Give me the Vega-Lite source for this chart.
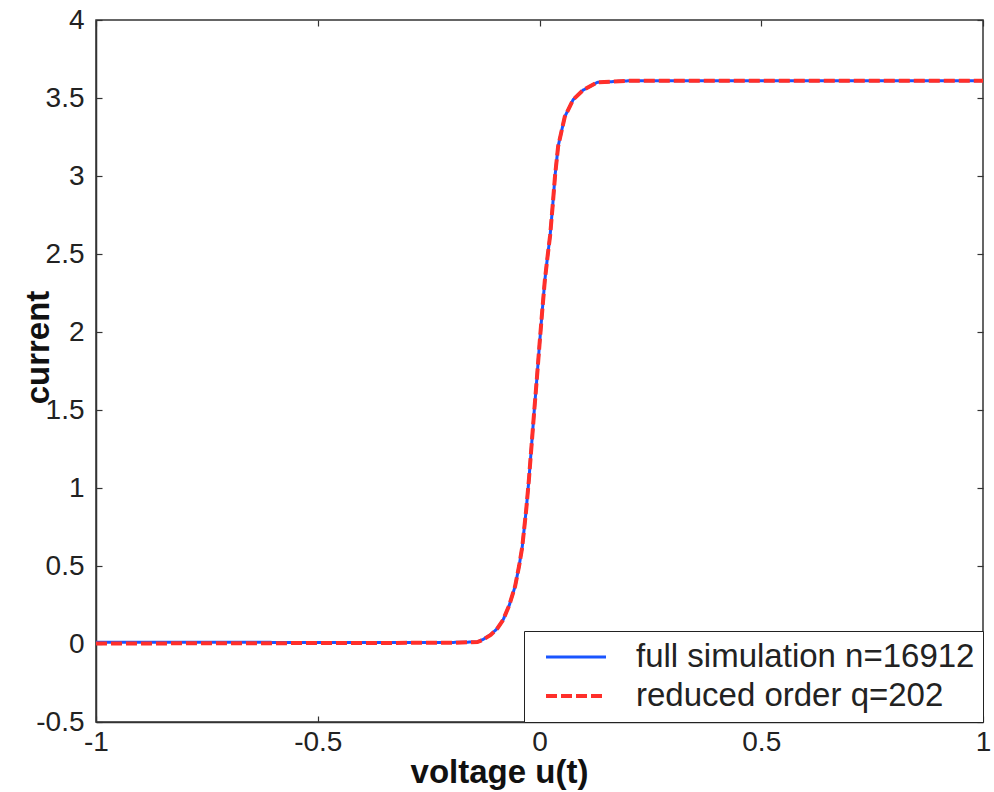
{
  "$schema": "https://vega.github.io/schema/vega-lite/v6.json",
  "width": 887,
  "height": 702,
  "autosize": {"type": "none"},
  "padding": {"left": 96, "top": 20, "right": 11, "bottom": 70},
  "background": "white",
  "config": {
    "font": "Liberation Sans",
    "view": {"stroke": "#333", "strokeWidth": 1.5},
    "axis": {
      "labelFont": "Liberation Sans",
      "labelFontSize": 28,
      "labelColor": "#222",
      "domainColor": "#333",
      "domainWidth": 1.5,
      "tickColor": "#333",
      "tickWidth": 1.2,
      "tickSize": -6,
      "grid": false,
      "titleFont": "Liberation Sans",
      "titleFontSize": 33,
      "titleFontWeight": "bold",
      "titleColor": "#111",
      "labelExpr": "'' + datum.value"
    }
  },
  "data": {
    "values": [
      {"u": -1, "i": 0.012, "s": "full simulation n=16912"},
      {"u": -0.5, "i": 0.01, "s": "full simulation n=16912"},
      {"u": -0.2, "i": 0.01, "s": "full simulation n=16912"},
      {"u": -0.14, "i": 0.013, "s": "full simulation n=16912"},
      {"u": -0.127, "i": 0.03, "s": "full simulation n=16912"},
      {"u": -0.11, "i": 0.06, "s": "full simulation n=16912"},
      {"u": -0.095, "i": 0.1, "s": "full simulation n=16912"},
      {"u": -0.082, "i": 0.155, "s": "full simulation n=16912"},
      {"u": -0.068, "i": 0.25, "s": "full simulation n=16912"},
      {"u": -0.055, "i": 0.37, "s": "full simulation n=16912"},
      {"u": -0.046, "i": 0.5, "s": "full simulation n=16912"},
      {"u": -0.039, "i": 0.62, "s": "full simulation n=16912"},
      {"u": -0.03, "i": 0.86, "s": "full simulation n=16912"},
      {"u": -0.024, "i": 1.05, "s": "full simulation n=16912"},
      {"u": -0.018, "i": 1.27, "s": "full simulation n=16912"},
      {"u": -0.012, "i": 1.49, "s": "full simulation n=16912"},
      {"u": -0.006, "i": 1.7, "s": "full simulation n=16912"},
      {"u": 0, "i": 1.92, "s": "full simulation n=16912"},
      {"u": 0.006, "i": 2.13, "s": "full simulation n=16912"},
      {"u": 0.012, "i": 2.33, "s": "full simulation n=16912"},
      {"u": 0.018, "i": 2.48, "s": "full simulation n=16912"},
      {"u": 0.024, "i": 2.62, "s": "full simulation n=16912"},
      {"u": 0.03, "i": 2.82, "s": "full simulation n=16912"},
      {"u": 0.035, "i": 3.0, "s": "full simulation n=16912"},
      {"u": 0.042, "i": 3.19, "s": "full simulation n=16912"},
      {"u": 0.057, "i": 3.38, "s": "full simulation n=16912"},
      {"u": 0.076, "i": 3.49, "s": "full simulation n=16912"},
      {"u": 0.098, "i": 3.55, "s": "full simulation n=16912"},
      {"u": 0.13, "i": 3.6, "s": "full simulation n=16912"},
      {"u": 0.2, "i": 3.61, "s": "full simulation n=16912"},
      {"u": 1, "i": 3.61, "s": "full simulation n=16912"},
      {"u": -1, "i": 0.003, "s": "reduced order q=202"},
      {"u": -0.5, "i": 0.006, "s": "reduced order q=202"},
      {"u": -0.2, "i": 0.008, "s": "reduced order q=202"},
      {"u": -0.14, "i": 0.012, "s": "reduced order q=202"},
      {"u": -0.127, "i": 0.028, "s": "reduced order q=202"},
      {"u": -0.11, "i": 0.058, "s": "reduced order q=202"},
      {"u": -0.095, "i": 0.1, "s": "reduced order q=202"},
      {"u": -0.082, "i": 0.155, "s": "reduced order q=202"},
      {"u": -0.068, "i": 0.25, "s": "reduced order q=202"},
      {"u": -0.055, "i": 0.37, "s": "reduced order q=202"},
      {"u": -0.046, "i": 0.5, "s": "reduced order q=202"},
      {"u": -0.039, "i": 0.62, "s": "reduced order q=202"},
      {"u": -0.03, "i": 0.86, "s": "reduced order q=202"},
      {"u": -0.024, "i": 1.05, "s": "reduced order q=202"},
      {"u": -0.018, "i": 1.27, "s": "reduced order q=202"},
      {"u": -0.012, "i": 1.49, "s": "reduced order q=202"},
      {"u": -0.006, "i": 1.7, "s": "reduced order q=202"},
      {"u": 0, "i": 1.92, "s": "reduced order q=202"},
      {"u": 0.006, "i": 2.13, "s": "reduced order q=202"},
      {"u": 0.012, "i": 2.33, "s": "reduced order q=202"},
      {"u": 0.018, "i": 2.48, "s": "reduced order q=202"},
      {"u": 0.024, "i": 2.62, "s": "reduced order q=202"},
      {"u": 0.03, "i": 2.82, "s": "reduced order q=202"},
      {"u": 0.035, "i": 3.0, "s": "reduced order q=202"},
      {"u": 0.042, "i": 3.19, "s": "reduced order q=202"},
      {"u": 0.057, "i": 3.38, "s": "reduced order q=202"},
      {"u": 0.076, "i": 3.49, "s": "reduced order q=202"},
      {"u": 0.098, "i": 3.55, "s": "reduced order q=202"},
      {"u": 0.13, "i": 3.6, "s": "reduced order q=202"},
      {"u": 0.2, "i": 3.61, "s": "reduced order q=202"},
      {"u": 1, "i": 3.61, "s": "reduced order q=202"}
    ]
  },
  "layer": [
    {
      "mark": {"type": "line", "clip": true},
      "encoding": {
        "x": {
          "field": "u", "type": "quantitative",
          "scale": {"domain": [-1, 1], "nice": false, "zero": false},
          "axis": {"orient": "bottom", "values": [-1, -0.5, 0, 0.5, 1], "title": "voltage u(t)", "labelPadding": 12, "labelFlush": false, "titleX": 403, "titleY": 60, "titleBaseline": "alphabetic"}
        },
        "y": {
          "field": "i", "type": "quantitative",
          "scale": {"domain": [-0.5, 4], "nice": false, "zero": false},
          "axis": {"orient": "left", "values": [-0.5, 0, 0.5, 1, 1.5, 2, 2.5, 3, 3.5, 4], "title": "current", "labelPadding": 18, "titleX": -48, "titleY": 327, "titleBaseline": "alphabetic", "titleAngle": 270}
        },
        "color": {
          "field": "s", "type": "nominal",
          "scale": {"domain": ["full simulation n=16912", "reduced order q=202"], "range": ["#1a55ff", "#ff2f2a"]},
          "legend": {
            "title": null,
            "orient": "bottom-right",
            "offset": 0,
            "strokeColor": "#222",
            "fillColor": "white",
            "padding": 8,
            "labelFontSize": 33,
            "labelFont": "Liberation Sans",
            "labelColor": "#222",
            "labelLimit": 600,
            "symbolType": "stroke",
            "symbolSize": 3600,
            "symbolStrokeWidth": 3.5,
            "symbolOffset": 12,
            "labelOffset": 28,
            "clipHeight": 36,
            "rowPadding": 3
          }
        },
        "strokeDash": {
          "field": "s", "type": "nominal",
          "scale": {"domain": ["full simulation n=16912", "reduced order q=202"], "range": [[1, 0], [11, 4]]},
          "legend": null
        },
        "strokeWidth": {
          "field": "s", "type": "nominal",
          "scale": {"domain": ["full simulation n=16912", "reduced order q=202"], "range": [3, 4]},
          "legend": null
        }
      }
    },
    {
      "mark": {"type": "point", "opacity": 0},
      "encoding": {
        "x": {"field": "u", "type": "quantitative", "axis": {"orient": "top", "values": [-1, -0.5, 0, 0.5, 1], "labels": false, "title": null, "domain": false}},
        "y": {"field": "i", "type": "quantitative", "axis": {"orient": "right", "values": [-0.5, 0, 0.5, 1, 1.5, 2, 2.5, 3, 3.5, 4], "labels": false, "title": null, "domain": false}}
      }
    }
  ],
  "resolve": {"axis": {"x": "independent", "y": "independent"}}
}
